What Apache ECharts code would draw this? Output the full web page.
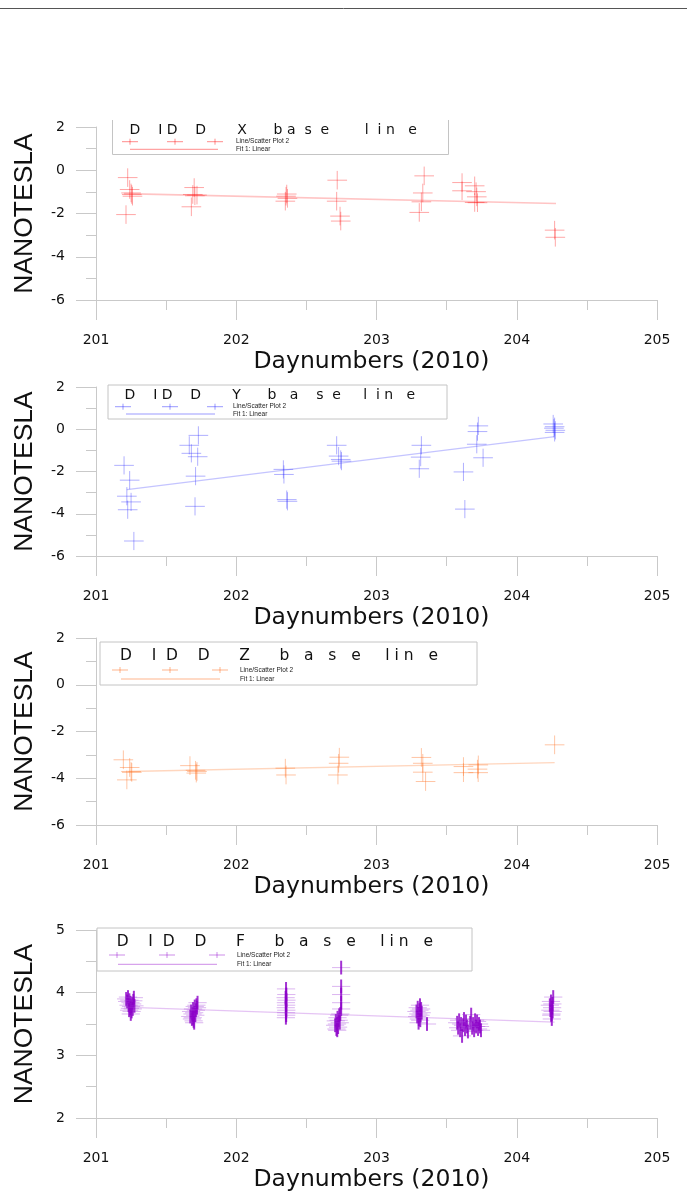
<!DOCTYPE html>
<html>
<head>
<meta charset="utf-8">
<script src="https://cdn.jsdelivr.net/npm/echarts@6/dist/echarts.min.js"></script>
<style>
html,body{margin:0;padding:0;background:#fff;}
#chart{width:687px;height:1193px;}
</style>
</head>
<body>
<div id="chart"></div>
<script>
// ---------------- data ----------------
const X_TICK_MIN = 201, X_TICK_MAX = 205;

// DIDD X baseline (nT)
const X_DAYS = [201.226,201.240,201.250,201.255,201.260,201.214,
                201.700,201.690,201.705,201.720,201.680,
                202.355,202.350,202.360,202.365,
                202.720,202.716,202.740,202.745,
                203.340,203.330,203.320,203.305,
                203.610,203.610,203.700,203.710,203.715,203.700,203.720,
                204.270,204.275];
const X_VALS = [-0.34,-0.89,-1.05,-1.12,-1.20,-2.05,
                -0.80,-1.12,-1.18,-1.15,-1.69,
                -1.20,-1.43,-1.10,-1.30,
                -0.46,-1.43,-2.12,-2.35,
                -0.26,-1.05,-1.46,-1.95,
                -0.57,-0.95,-0.72,-0.99,-1.23,-1.49,-1.50,
                -2.77,-3.10];
const X_FIT_DAYS = [201.20, 204.28];
const X_FIT_VALS = [-1.08, -1.54];

// DIDD Y baseline (nT)
const Y_DAYS = [201.200,201.240,201.220,201.250,201.226,201.270,
                201.665,201.680,201.730,201.725,201.710,201.706,
                202.336,202.340,202.360,202.365,
                202.716,202.730,202.745,202.750,
                203.320,203.315,203.305,
                203.620,203.630,203.726,203.720,203.715,203.760,
                204.260,204.270,204.265,204.275,204.270];
const Y_VALS = [-1.71,-2.41,-3.17,-3.44,-3.81,-5.29,
                -0.76,-1.14,-0.29,-1.30,-2.22,-3.65,
                -1.90,-2.14,-3.33,-3.41,
                -0.76,-1.27,-1.43,-1.51,
                -0.76,-1.32,-1.87,
                -2.02,-3.78,0.16,-0.11,-0.71,-1.35,
                0.25,0.12,0.05,-0.05,-0.15];
const Y_FIT_DAYS = [201.22, 204.27];
const Y_FIT_VALS = [-2.86, -0.35];

// DIDD Z baseline (nT)
const Z_DAYS = [201.195,201.240,201.250,201.255,201.220,
                201.670,201.710,201.720,201.715,
                202.350,202.355,
                202.735,202.730,202.725,
                203.320,203.330,203.330,203.350,
                203.620,203.620,203.726,203.720,203.725,
                204.270];
const Z_VALS = [-3.21,-3.54,-3.71,-3.75,-4.07,
                -3.46,-3.66,-3.71,-3.78,
                -3.57,-3.86,
                -3.10,-3.36,-3.86,
                -3.11,-3.36,-3.74,-4.14,
                -3.50,-3.76,-3.43,-3.61,-3.76,
                -2.57];
const Z_FIT_DAYS = [201.23, 204.27];
const Z_FIT_VALS = [-3.71, -3.33];

// DIDD F baseline (nT)
const F_DAYS = [
  201.215,201.222,201.228,201.232,201.238,201.242,201.246,201.250,201.254,201.258,201.262,201.266,201.270,201.274,201.236,201.248,
  201.672,201.678,201.684,201.688,201.692,201.696,201.700,201.704,201.708,201.712,201.716,201.720,201.724,201.690,201.700,
  202.355,202.357,202.352,202.358,202.354,202.356,202.353,202.357,202.355,202.356,202.354,
  202.705,202.710,202.714,202.718,202.722,202.726,202.730,202.734,202.738,202.742,202.720,202.748,202.748,202.748,202.748,202.748,
  203.285,203.290,203.294,203.298,203.302,203.306,203.310,203.314,203.318,203.322,203.300,203.312,203.360,
  203.575,203.582,203.589,203.596,203.603,203.610,203.617,203.624,203.631,203.638,203.645,203.652,
  203.668,203.675,203.682,203.689,203.696,203.703,203.710,203.717,203.724,203.731,203.738,203.745,
  204.236,204.240,204.244,204.248,204.252,204.256,204.260,204.250,204.254,204.246];
const F_VALS = [
  3.90,3.86,3.93,3.80,3.88,3.75,3.84,3.78,3.70,3.82,3.74,3.87,3.92,3.79,3.72,3.66,
  3.62,3.70,3.58,3.66,3.74,3.55,3.68,3.78,3.64,3.72,3.80,3.76,3.84,3.60,3.52,
  4.06,3.97,3.92,3.88,3.84,3.80,3.76,3.72,3.68,3.64,3.60,
  3.48,3.55,3.42,3.50,3.60,3.45,3.56,3.64,3.52,3.66,3.40,4.40,4.10,3.97,3.84,3.74,
  3.70,3.62,3.76,3.66,3.58,3.72,3.80,3.64,3.74,3.68,3.52,3.56,3.50,
  3.52,3.44,3.56,3.40,3.50,3.31,3.48,3.58,3.42,3.54,3.46,3.38,
  3.52,3.65,3.44,3.50,3.40,3.56,3.46,3.54,3.42,3.50,3.46,3.40,
  3.80,3.72,3.86,3.66,3.76,3.70,3.93,3.58,3.82,3.64];
const F_FIT_DAYS = [201.20, 204.27];
const F_FIT_VALS = [3.77, 3.53];

// legend titles: letters with the number of blanks between them
const TITLE_X = ['D',4,'I',1,'D',4,'D',7,'X',6,'b',1,'a',2,'s',2,'e',8,'l',2,'i',1,'n',3,'e'];
const TITLE_Y = ['D',4,'I',1,'D',4,'D',7,'Y',6,'b',3,'a',4,'s',2,'e',5,'l',2,'i',1,'n',3,'e'];
const TITLE_Z = ['D',4,'I',2,'D',4,'D',6,'Z',6,'b',3,'a',3,'s',3,'e',5,'l',1,'i',1,'n',3,'e'];
const TITLE_F = ['D',4,'I',2,'D',4,'D',6,'F',6,'b',3,'a',3,'s',3,'e',5,'l',1,'i',1,'n',3,'e'];
const LEGEND_SCATTER = 'Line/Scatter Plot 2';
const LEGEND_FIT = 'Fit 1: Linear';
const X_NAME = 'Daynumbers (2010)';
const Y_NAME = 'NANOTESLA';

// ---------------- helpers ----------------
function spaced(parts){ return parts.map(p => typeof p === 'number' ? ' '.repeat(p) : p).join(''); }
function zip(a,b){ return a.map((v,i)=>[v,b[i]]); }

const panels = [
  {top:127, height:173, ymin:-6, ymax:2, yint:2, hcol:'rgba(255,0,0,0.35)', vcol:'rgba(255,0,0,0.35)', fit:'rgba(255,60,60,0.3)', fitW:1.6,
   days:X_DAYS, vals:X_VALS, fd:X_FIT_DAYS, fv:X_FIT_VALS, dx:0.07, dy:0.43, lw:1,
   legend:{l:112, r:448, t:120, b:154, noTop:true, tx:129.6, ty:130, fs:14, title:TITLE_X, r1:141.7, r2:149.3, cx:[130,175,215], lx1:130, lx2:218, labx:236, mk:'rgba(255,0,0,0.45)'}},
  {top:387, height:169, ymin:-6, ymax:2, yint:2, hcol:'rgba(30,30,255,0.35)', vcol:'rgba(30,30,255,0.35)', fit:'rgba(60,60,255,0.3)', fitW:1.2,
   days:Y_DAYS, vals:Y_VALS, fd:Y_FIT_DAYS, fv:Y_FIT_VALS, dx:0.07, dy:0.43, lw:1,
   legend:{l:108, r:447, t:385, b:419, tx:124.6, ty:395.7, fs:14, title:TITLE_Y, r1:406.7, r2:414, cx:[123,170,215], lx1:126, lx2:215, labx:233, mk:'rgba(30,30,255,0.45)'}},
  {top:638, height:187, ymin:-6, ymax:2, yint:2, hcol:'rgba(255,110,30,0.4)', vcol:'rgba(255,110,30,0.4)', fit:'rgba(255,120,40,0.3)', fitW:1.4,
   days:Z_DAYS, vals:Z_VALS, fd:Z_FIT_DAYS, fv:Z_FIT_VALS, dx:0.07, dy:0.4, lw:1,
   legend:{l:100, r:477, t:642, b:685, tx:120, ty:655.8, fs:15.5, title:TITLE_Z, r1:670, r2:679, cx:[120,170,220], lx1:121, lx2:220, labx:240, mk:'rgba(255,110,30,0.5)'}},
  {top:930, height:189, ymin:2, ymax:5, yint:1, hcol:'rgba(160,60,215,0.38)', vcol:'rgba(140,0,200,0.8)', fit:'rgba(170,60,220,0.3)', fitW:1.2,
   days:F_DAYS, vals:F_VALS, fd:F_FIT_DAYS, fv:F_FIT_VALS, dx:0.065, dy:0.11, lw:2,
   legend:{l:97, r:472, t:928, b:971, tx:116.7, ty:941.7, fs:15.5, title:TITLE_F, r1:955, r2:964.3, cx:[117,167,217], lx1:118, lx2:217, labx:237, mk:'rgba(145,0,205,0.45)'}}
];

const AXIS_COLOR = '#c9c9c9';
const grids = [], xAxes = [], yAxes = [], series = [], graphics = [];

graphics.push({type:'line', z:100, shape:{x1:0, y1:8.5, x2:687, y2:8.5}, style:{stroke:'#555', lineWidth:1}});

panels.forEach((p, i) => {
  grids.push({left:96, right:30, top:p.top, height:p.height});
  xAxes.push({
    type:'value', gridIndex:i, min:X_TICK_MIN, max:X_TICK_MAX, interval:1,
    axisLine:{show:true, onZero:false, lineStyle:{color:AXIS_COLOR, width:1}},
    axisTick:{show:true, length:20, lineStyle:{color:AXIS_COLOR}},
    minorTick:{show:true, splitNumber:2, length:10, lineStyle:{color:AXIS_COLOR}},
    splitLine:{show:false},
    axisLabel:{margin:33, color:'#111', fontSize:14, fontFamily:'DejaVu Sans'},
    name:X_NAME, nameLocation:'middle', nameGap:50,
    nameTextStyle:{color:'#111', fontSize:23.5, fontFamily:'DejaVu Sans', padding:[0,10,0,0]}
  });
  yAxes.push({
    type:'value', gridIndex:i, min:p.ymin, max:p.ymax, interval:p.yint,
    axisLine:{show:true, onZero:false, lineStyle:{color:AXIS_COLOR, width:1}},
    axisTick:{show:true, length:20, lineStyle:{color:AXIS_COLOR}},
    minorTick:{show:true, splitNumber:2, length:10, lineStyle:{color:AXIS_COLOR}},
    splitLine:{show:false},
    axisLabel:{margin:31, color:'#111', fontSize:14, fontFamily:'DejaVu Sans'},
    name:Y_NAME, nameLocation:'middle', nameGap:58,
    nameTextStyle:{color:'#111', fontSize:26.5, fontFamily:'Liberation Sans'}
  });
  const dx = p.dx, dy = p.dy, hcol = p.hcol, vcol = p.vcol, lw = p.lw;
  series.push({
    type:'custom', xAxisIndex:i, yAxisIndex:i, silent:true, animation:false,
    data: zip(p.days, p.vals),
    encode:{x:0, y:1},
    renderItem: function(params, api){
      const x = api.value(0), y = api.value(1);
      const l = api.coord([x-dx, y]), r = api.coord([x+dx, y]);
      const t = api.coord([x, y+dy]), b = api.coord([x, y-dy]);
      return {type:'group', children:[
        {type:'line', shape:{x1:l[0], y1:l[1], x2:r[0], y2:r[1]}, style:{stroke:hcol, lineWidth:1}},
        {type:'line', shape:{x1:t[0], y1:t[1], x2:b[0], y2:b[1]}, style:{stroke:vcol, lineWidth:lw}}
      ]};
    }
  });
  series.push({
    type:'line', xAxisIndex:i, yAxisIndex:i, silent:true, animation:false,
    data: zip(p.fd, p.fv), symbol:'none',
    lineStyle:{color:p.fit, width:p.fitW}
  });

  // legend box
  const L = p.legend;
  const kids = [];
  kids.push({type:'rect', shape:{x:L.l, y:L.t, width:L.r-L.l, height:L.b-L.t},
             style:{fill:'#fff', stroke: L.noTop ? null : '#c4c4c4', lineWidth:1}});
  if (L.noTop) {
    kids.push({type:'polyline', shape:{points:[[L.l+0.5,L.t],[L.l+0.5,L.b+0.5],[L.r+0.5,L.b+0.5],[L.r+0.5,L.t]]},
               style:{stroke:'#c4c4c4', fill:null, lineWidth:1}});
  }
  kids.push({type:'text', style:{text:spaced(L.title), x:L.tx, y:L.ty, fill:'#111',
             font: L.fs + 'px "DejaVu Sans"', textAlign:'left', textVerticalAlign:'middle'}});
  L.cx.forEach(cx => {
    kids.push({type:'line', shape:{x1:cx-8, y1:L.r1, x2:cx+8, y2:L.r1}, style:{stroke:L.mk, lineWidth:1}});
    kids.push({type:'line', shape:{x1:cx, y1:L.r1-3, x2:cx, y2:L.r1+3}, style:{stroke:L.mk, lineWidth:1}});
  });
  kids.push({type:'line', shape:{x1:L.lx1, y1:L.r2, x2:L.lx2, y2:L.r2}, style:{stroke:L.mk, lineWidth:1}});
  kids.push({type:'text', style:{text:LEGEND_SCATTER, x:L.labx, y:L.r1, fill:'#222',
             font:'6.5px "Liberation Sans"', textAlign:'left', textVerticalAlign:'middle'}});
  kids.push({type:'text', style:{text:LEGEND_FIT, x:L.labx, y:L.r2, fill:'#222',
             font:'6.5px "Liberation Sans"', textAlign:'left', textVerticalAlign:'middle'}});
  graphics.push({type:'group', z:100, children:kids});
});

const chart = echarts.init(document.getElementById('chart'), null, {renderer:'canvas', width:687, height:1193});
chart.setOption({
  animation:false,
  backgroundColor:'#fff',
  grid:grids, xAxis:xAxes, yAxis:yAxes, series:series, graphic:graphics
});
</script>
</body>
</html>
